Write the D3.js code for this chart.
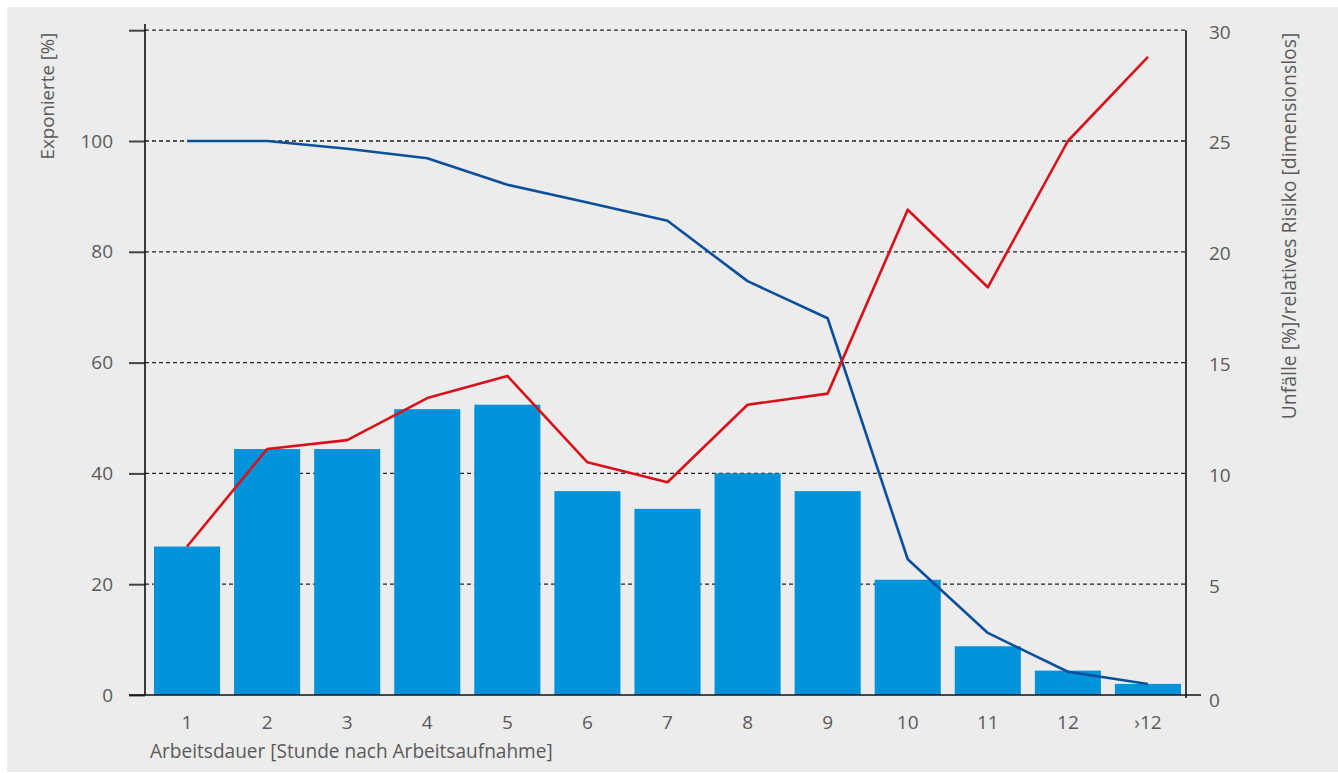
<!DOCTYPE html>
<html>
<head>
<meta charset="utf-8">
<script src="https://cdn.jsdelivr.net/npm/d3@7"></script>
<style>
  html, body { margin: 0; padding: 0; background: #ffffff; }
  svg text { font-family: "Open Sans", "Noto Sans", sans-serif; fill: #5a5a5a; }
</style>
</head>
<body>
<svg id="chart" width="1338" height="773"></svg>
<script>
// ---- data ----
const categories = ["1","2","3","4","5","6","7","8","9","10","11","12","›12"];
// Unfälle [%] (right axis) – bars
const unfaelle = [6.7, 11.1, 11.1, 12.9, 13.1, 9.2, 8.4, 10.0, 9.2, 5.2, 2.2, 1.1, 0.5];
// Exponierte [%] (left axis) – blue line
const exponierte = [100, 100, 98.6, 96.9, 92.1, 88.9, 85.6, 74.7, 68.0, 24.5, 11.2, 4.2, 2.0];
// relatives Risiko (right axis) – red line
const risiko = [6.7, 11.1, 11.5, 13.4, 14.4, 10.5, 9.6, 13.1, 13.6, 21.9, 18.4, 25.0, 28.8];
const leftTicks = [0, 20, 40, 60, 80, 100, 120];
const rightTicks = [0, 5, 10, 15, 20, 25, 30];
const xTitle = "Arbeitsdauer [Stunde nach Arbeitsaufnahme]";
const yLeftTitle = "Exponierte [%]";
const yRightTitle = "Unfälle [%]/relatives Risiko [dimensionslos]";

// ---- layout ----
const svg = d3.select("#chart");
const X0 = 145, X1 = 1186, Y0 = 695, YT = 30.2;
const FS = 19;

svg.append("rect").attr("x", 7).attr("y", 7).attr("width", 1331).attr("height", 765).attr("fill", "#ececec");

const x = d3.scaleBand().domain(categories).range([147, 1188]).paddingInner(0.175).paddingOuter(0.0875);
const yL = d3.scaleLinear().domain([0, 120]).range([Y0, YT]);
const yR = d3.scaleLinear().domain([0, 30]).range([Y0, YT]);

// gridlines
svg.append("g").selectAll("line").data(leftTicks.filter(d => d > 0)).join("line")
  .attr("x1", X0).attr("x2", X1)
  .attr("y1", d => yL(d)).attr("y2", d => yL(d))
  .attr("stroke", "#222").attr("stroke-width", 1.3).attr("stroke-dasharray", "4,3");

// bars
svg.append("g").selectAll("rect").data(categories).join("rect")
  .attr("x", d => x(d)).attr("width", x.bandwidth())
  .attr("y", (d, i) => yR(unfaelle[i]))
  .attr("height", (d, i) => Y0 - yR(unfaelle[i]))
  .attr("fill", "#0093d9");

// lines
const cx = d => x(d) + x.bandwidth() / 2;
const lineL = d3.line().x((d, i) => cx(categories[i])).y(d => yL(d));
const lineR = d3.line().x((d, i) => cx(categories[i])).y(d => yR(d));
svg.append("path").datum(exponierte).attr("d", lineL)
  .attr("fill", "none").attr("stroke", "#0b4f9c").attr("stroke-width", 2.6).attr("stroke-linejoin", "round");
svg.append("path").datum(risiko).attr("d", lineR)
  .attr("fill", "none").attr("stroke", "#d9101a").attr("stroke-width", 2.6).attr("stroke-linejoin", "round");

// left axis
const gL = svg.append("g").attr("transform", `translate(${X0},0)`)
  .call(d3.axisLeft(yL).tickValues(leftTicks).tickSize(16).tickPadding(16)
    .tickFormat(d => d === 120 ? "" : d));
gL.select(".domain").remove();
gL.selectAll(".tick line").attr("stroke", "#444").attr("stroke-width", 2);
gL.selectAll(".tick text").attr("font-size", FS).attr("fill", "#5a5a5a");
svg.append("line").attr("x1", X0).attr("x2", X0).attr("y1", 24).attr("y2", Y0)
  .attr("stroke", "#111").attr("stroke-width", 1.6);

// right axis
const gR = svg.append("g").attr("transform", `translate(${X1},0)`)
  .call(d3.axisRight(yR).tickValues(rightTicks).tickSize(0).tickPadding(23));
gR.select(".domain").remove();
gR.selectAll(".tick text").attr("font-size", FS).attr("fill", "#5a5a5a").attr("dy", "0.42em");
gR.selectAll(".tick").filter(d => d === 0).select("text").attr("dy", "0.62em");
svg.append("line").attr("x1", X1).attr("x2", X1).attr("y1", YT).attr("y2", Y0 + 3)
  .attr("stroke", "#111").attr("stroke-width", 1.6);

// bottom axis
const gB = svg.append("g").attr("transform", `translate(0,${Y0})`)
  .call(d3.axisBottom(x).tickSize(0).tickPadding(20.5));
gB.select(".domain").remove();
gB.selectAll(".tick text").attr("font-size", FS).attr("fill", "#5a5a5a");
svg.append("line").attr("x1", 129).attr("x2", 1201).attr("y1", Y0).attr("y2", Y0)
  .attr("stroke", "#111").attr("stroke-width", 1.6);

// titles (font-size fitted to reference width)
function fitText(sel, targetWidth) {
  const w = sel.node().getComputedTextLength();
  sel.attr("font-size", FS * targetWidth / w);
}
const tx = svg.append("text").attr("x", 150).attr("y", 758).attr("font-size", FS).text(xTitle);
fitText(tx, 403);
const tl = svg.append("text").attr("transform", "translate(54,96) rotate(-90)")
  .attr("text-anchor", "middle").attr("font-size", FS).text(yLeftTitle);
fitText(tl, 127);
const tr = svg.append("text").attr("transform", "translate(1296,226) rotate(-90)")
  .attr("text-anchor", "middle").attr("font-size", FS).text(yRightTitle);
fitText(tr, 387);
</script>
</body>
</html>
